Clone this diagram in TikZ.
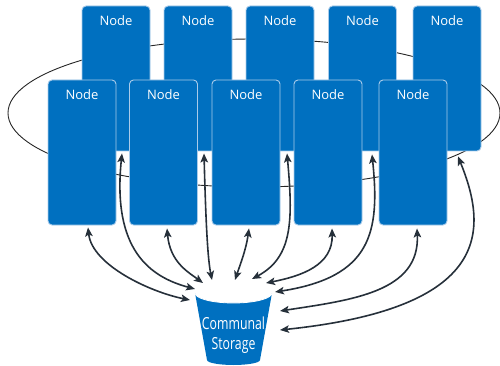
\documentclass[tikz,border=0pt]{standalone}
\usepackage{fontspec}
\setmainfont{Open Sans}
\usetikzlibrary{arrows.meta,calc}
\definecolor{nodeblue}{HTML}{0070C0}
\definecolor{edgeblue}{HTML}{A9CBEA}
\definecolor{arrowdark}{HTML}{26303A}
\tikzset{
  srv/.style={rectangle, rounded corners=4pt, fill=nodeblue, draw=edgeblue, line width=0.9pt,
    minimum width=68pt, minimum height=145pt, inner sep=0pt,
    label={[anchor=base, yshift=-20pt, text=white, font=\fontsize{13}{15}\selectfont]north:Node}},
  link/.style={draw=arrowdark, line width=1.6pt,
    {Stealth[length=9pt,width=7.5pt,inset=2pt]}-{Stealth[length=9pt,width=7.5pt,inset=2pt]}},
  ring/.style={draw=black!85, line width=0.9pt}
}
\newcommand{\tallword}[1]{\scalebox{1}[1.35]{#1}}
\begin{document}
\begin{tikzpicture}[x=1pt,y=-1pt]
\useasboundingbox (0,0) rectangle (500,366);
% ring behind everything
\draw[ring] (254,113) ellipse [x radius=246, y radius=74];
% back row
\node[srv] (b1) at (116,78.5) {};
\node[srv] (b2) at (198,78.5) {};
\node[srv] (b3) at (280,78.5) {};
\node[srv] (b4) at (362.5,78.5) {};
\node[srv] (b5) at (447,78.5) {};
% front row
\node[srv] (f1) at (82,152.5) {};
\node[srv] (f2) at (163.5,152.5) {};
\node[srv] (f3) at (246,152.5) {};
\node[srv] (f4) at (328,152.5) {};
\node[srv] (f5) at (413,152.5) {};
% storage bucket
\fill[nodeblue] (195,293) arc[start angle=180, end angle=0, x radius=38.5, y radius=10]
  -- (260,360) arc[start angle=0, end angle=-180, x radius=26.5, y radius=-5] -- cycle;
\draw[white, line width=0.8pt] (195,293) arc[start angle=180, end angle=360, x radius=38.5, y radius=-10];
\node[align=center, text=white, font=\fontsize{12.3}{20}\selectfont, inner sep=0pt] (s) at (233.5,335) {\tallword{Communal}\\\tallword{Storage}};
% connectors
\draw[link] ($(f1.south)+(6,2)$) .. controls (92,265) and (150,292) .. ($(s.center)+(-43.5,-35)$);
\draw[link] ($(b1.south)+(6,2)$) .. controls (112,250) and (150,277) .. ($(s.center)+(-38.5,-46)$);
\draw[link] ($(f2.south)+(3.5,3)$) .. controls (170,262) and (188,272) .. ($(s.center)+(-30.5,-52)$);
\draw[link] ($(b2.south)+(6,2)$) .. controls (206,230) and (208,260) .. ($(s.center)+(-21.5,-55)$);
\draw[link] ($(f3.south)+(3,3)$) .. controls (246,250) and (240,265) .. ($(s.center)+(1.5,-55)$);
\draw[link] ($(b3.south)+(7,2)$) .. controls (293,220) and (293,257) .. ($(s.center)+(18.5,-56)$);
\draw[link] ($(f4.south)+(4,3)$) .. controls (333,265) and (302,276) .. ($(s.center)+(32.5,-52)$);
\draw[link] ($(b4.south)+(9.5,3)$) .. controls (380,232) and (372,277) .. ($(s.center)+(41.5,-43)$);
\draw[link] ($(f5.south)+(4,3)$) .. controls (420,292) and (352,300) .. ($(s.center)+(46.5,-24)$);
\draw[link] ($(b5.south)+(11,5)$) .. controls (488,230) and (492,308) .. ($(s.center)+(46.5,-5)$);
\end{tikzpicture}
\end{document}
